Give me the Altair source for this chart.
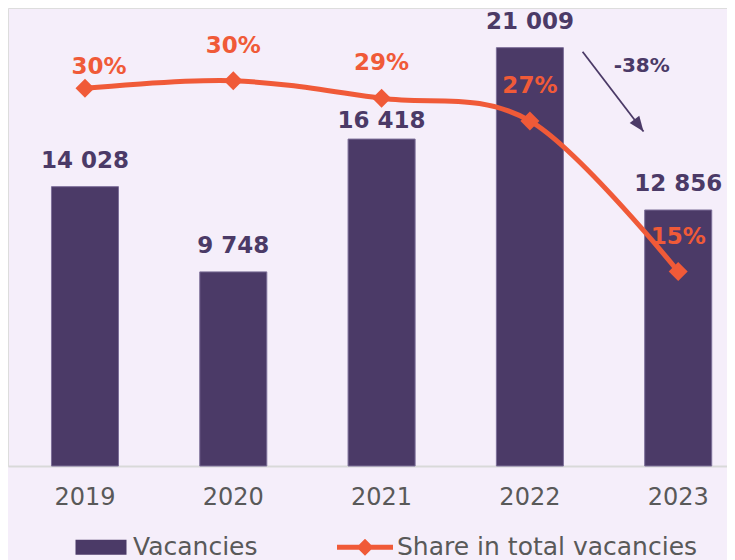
import altair as alt
import pandas as pd

# ---- data ----
years = ["2019", "2020", "2021", "2022", "2023"]
vacancies = [14028, 9748, 16418, 21009, 12856]
share = [29.6, 30.2, 28.8, 27.0, 15.0]
series_names = ["Vacancies", "Share in total vacancies"]
arrow_years = ["2022", "2023"]
arrow_values = [20800, 16800]
change_label = ["-38%"]
change_label_value = [20100]

PURPLE = "#4b3a67"
ORANGE = "#f05a38"
GRAY = "#595959"
BG = "#f5eefa"
FONT = "DejaVu Sans"

df = pd.DataFrame({"year": years, "vacancies": vacancies, "share": share})
df["vac_label"] = [f"{v:,}".replace(",", " ") for v in vacancies]

arrow_df = pd.DataFrame({"year": [arrow_years[0]], "year2": [arrow_years[1]],
                         "v1": [arrow_values[0]], "v2": [arrow_values[1]]})
head_df = pd.DataFrame({"year": [arrow_years[1]], "v": [arrow_values[1]]})
chg_df = pd.DataFrame({"year": [arrow_years[1]], "v": change_label_value, "t": change_label})
leg_df = pd.DataFrame({"series": series_names})

x_enc = alt.X(
    "year:N",
    title=None,
    scale=alt.Scale(domain=years, paddingInner=0.548, paddingOuter=0.198, align=0.74),
    axis=alt.Axis(labelFontSize=24, labelColor=GRAY, labelFont=FONT, labelPadding=19,
                  domainColor="#d9d9d9", domainWidth=2, ticks=False, grid=False,
                  labelAngle=0),
)
yv_scale = alt.Scale(domain=[0, 23000], nice=False, zero=False)
ys_scale = alt.Scale(domain=[-0.5, 36], nice=False, zero=False)

base = alt.Chart(df)

bars = base.mark_bar(color=PURPLE, stroke="#7d6f99", strokeWidth=1).encode(
    x=x_enc, y=alt.Y("vacancies:Q", scale=yv_scale, axis=None))

bar_text = base.transform_filter("datum.year != '2021'").mark_text(
    dy=-26, fontSize=23, fontWeight="bold", color=PURPLE, baseline="middle", font=FONT
).encode(x=x_enc, y=alt.Y("vacancies:Q", scale=yv_scale, axis=None), text="vac_label:N")

bar_text_b = base.transform_filter("datum.year == '2021'").mark_text(
    dy=-18, fontSize=23, fontWeight="bold", color=PURPLE, baseline="middle", font=FONT
).encode(x=x_enc, y=alt.Y("vacancies:Q", scale=yv_scale, axis=None), text="vac_label:N")

line = base.mark_line(color=ORANGE, strokeWidth=5, interpolate="cardinal",
                      strokeCap="round").encode(
    x=x_enc, y=alt.Y("share:Q", scale=ys_scale, axis=None))

pts = base.mark_point(shape="diamond", size=360, filled=True, color=ORANGE,
                      opacity=1, strokeWidth=0).encode(
    x=x_enc, y=alt.Y("share:Q", scale=ys_scale, axis=None))

pct = base.transform_calculate(lbl="format(datum.share, '.0f') + '%'")

pct_text = pct.transform_filter("datum.year != '2019'").mark_text(
    dy=-35, fontSize=23, fontWeight="bold", color=ORANGE, baseline="middle", font=FONT
).encode(x=x_enc, y=alt.Y("share:Q", scale=ys_scale, axis=None), text="lbl:N")

pct_text_b = pct.transform_filter("datum.year == '2019'").mark_text(
    dy=-21, dx=14, fontSize=23, fontWeight="bold", color=ORANGE, baseline="middle", font=FONT
).encode(x=x_enc, y=alt.Y("share:Q", scale=ys_scale, axis=None), text="lbl:N")

arrow = alt.Chart(arrow_df).mark_rule(color=PURPLE, strokeWidth=1.8,
                                      xOffset=52.7, x2Offset=-34.7).encode(
    x=x_enc, x2="year2:N",
    y=alt.Y("v1:Q", scale=yv_scale, axis=None), y2="v2:Q")

head = alt.Chart(head_df).mark_point(shape="M0,0L-0.4,-1L0.4,-1Z", size=900, angle=323,
                                     filled=True, opacity=1, color=PURPLE,
                                     strokeWidth=0, xOffset=-34.7).encode(
    x=x_enc, y=alt.Y("v:Q", scale=yv_scale, axis=None))

chg = alt.Chart(chg_df).mark_text(fontSize=20, fontWeight="bold", color=PURPLE,
                                  baseline="middle", font=FONT, xOffset=-36.5).encode(
    x=x_enc, y=alt.Y("v:Q", scale=yv_scale, axis=None), text="t:N")

RECT = "M-2.55,-0.75H2.55V0.75H-2.55Z"
LINE = "M-2.8,-0.25H-0.6L0,-0.85L0.6,-0.25H2.8V0.25H0.6L0,0.85L-0.6,0.25H-2.8Z"

leg = alt.Legend(orient="none", legendX=80.5, legendY=526.5, direction="horizontal",
                 title=None, labelFontSize=25, labelColor=GRAY, labelFont=FONT,
                 labelLimit=600, symbolSize=400, symbolStrokeWidth=0, symbolOpacity=1,
                 labelOffset=19.5, columnPadding=79, padding=0)

legend_layer = alt.Chart(leg_df).mark_point(filled=True, opacity=0, size=400).encode(
    color=alt.Color("series:N", scale=alt.Scale(domain=series_names, range=[PURPLE, ORANGE]),
                    legend=leg),
    shape=alt.Shape("series:N", scale=alt.Scale(domain=series_names, range=[RECT, LINE]),
                    legend=leg),
)

chart = alt.layer(
    bars, line, pts, bar_text, bar_text_b, pct_text, pct_text_b, arrow, head, chg, legend_layer
).resolve_scale(y="independent").properties(
    width=719, height=458, background=BG, padding=0
).configure_view(stroke=None).configure(font=FONT)

chart.save("out.html", embed_options={"renderer": "svg", "actions": False})
